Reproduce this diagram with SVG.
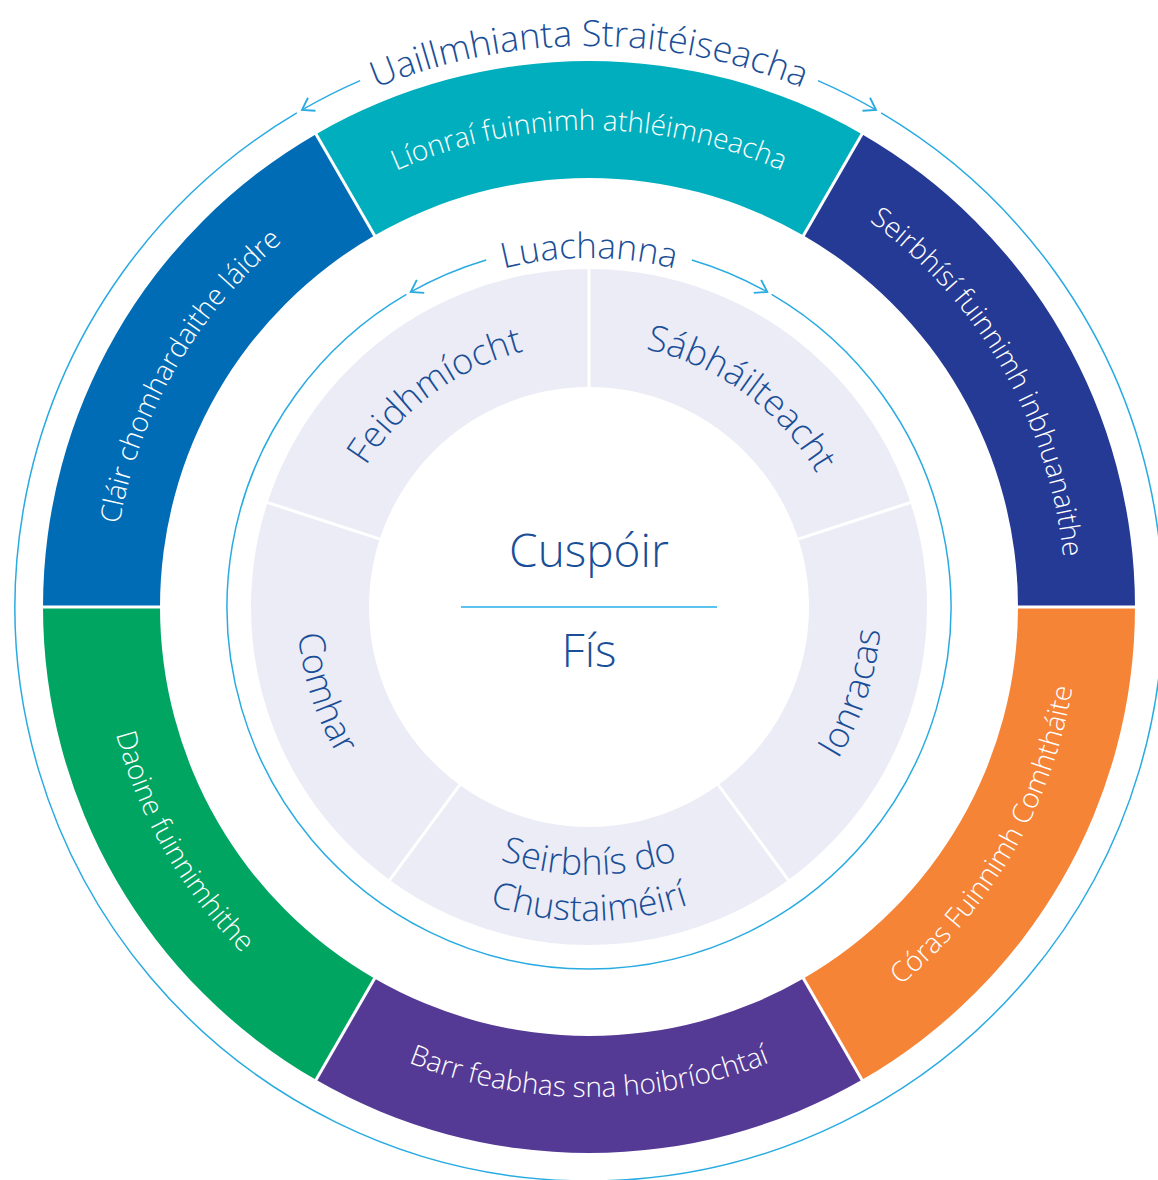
<svg xmlns="http://www.w3.org/2000/svg" width="1158" height="1180" viewBox="0 0 1158 1180">
<style>
.t { font-family: "Open Sans", "Liberation Sans", sans-serif; font-weight: 300; text-anchor: middle; }
.out { font-size: 28px; fill: #ffffff; }
.inn { font-size: 36px; fill: #1A4F98; }
.ttl { font-size: 36px; fill: #1A4F98; }
.sep { stroke: #ffffff; stroke-width: 3; }
.thin { fill: none; stroke: #29ABE2; stroke-width: 1.5; }
</style>
<defs>
<marker id="arr" markerUnits="userSpaceOnUse" markerWidth="20" markerHeight="20" viewBox="-12 -8 14 16" refX="0" refY="0" orient="auto">
<path d="M-9,-6 L0,0 L-9,6" fill="none" stroke="#29ABE2" stroke-width="1.5"/>
</marker>
<path id="pLion" d="M119.25,524.17 A477,477 0 0 1 1058.75,524.17"/>
<path id="pSeir" d="M425.86,158.77 A477,477 0 0 1 895.61,972.40"/>
<path id="pClair" d="M282.39,972.40 A477,477 0 0 1 752.14,158.77"/>
<path id="pBarr" d="M106.44,692.09 A490,490 0 0 0 1071.56,692.09"/>
<path id="pDaoine" d="M274.03,231.64 A490,490 0 0 0 756.59,1067.45"/>
<path id="pCoras" d="M421.41,1067.45 A490,490 0 0 0 903.97,231.64"/>
<path id="pFeid" d="M351.72,722.73 A264,264 0 0 1 772.39,417.09"/>
<path id="pSabh" d="M405.61,417.09 A264,264 0 0 1 826.28,722.73"/>
<path id="pIonr" d="M548.36,896.16 A292,292 0 0 0 726.09,349.18"/>
<path id="pComh" d="M451.91,349.18 A292,292 0 0 0 629.64,896.16"/>
<path id="pSeirb1" d="M325.07,653.54 A268,268 0 0 0 852.93,653.54"/>
<path id="pSeirb2" d="M279.77,661.53 A314,314 0 0 0 898.23,661.53"/>
<path id="pTitle" d="M36.52,509.58 A561,561 0 0 1 1141.48,509.58"/>
<path id="pLuach" d="M245.30,546.39 A349,349 0 0 1 932.70,546.39"/>
</defs>

<rect width="1158" height="1180" fill="#ffffff"/>

<g id="connectors">
<path class="thin" d="M296.81,112.93 A574,574 0 1 0 881.19,112.93"/>
<path class="thin" d="M360.12,80.61 A574,574 0 0 0 302,109.90" marker-end="url(#arr)"/>
<path class="thin" d="M817.88,80.61 A574,574 0 0 1 876,109.90" marker-end="url(#arr)"/>
<path class="thin" d="M406.36,294.45 A362,362 0 1 0 771.64,294.45"/>
<path class="thin" d="M486.18,259.91 A362,362 0 0 0 410.74,291.93" marker-end="url(#arr)"/>
<path class="thin" d="M691.82,259.91 A362,362 0 0 1 767.26,291.93" marker-end="url(#arr)"/>
</g>

<g id="title-ambitions">
<text class="t ttl"><textPath href="#pTitle" startOffset="50%">Uaillmhianta Straitéiseacha</textPath></text>
</g>

<g id="seg-lionrai">
<path d="M862,134.15 A546,546 0 0 0 316,134.15 L374.5,235.47 A429,429 0 0 1 803.5,235.47 Z" fill="#00AEBD"/>
<text class="t out"><textPath href="#pLion" startOffset="50%">Líonraí fuinnimh athléimneacha</textPath></text>
</g>
<g id="seg-seirbhisi">
<path d="M1135,607 A546,546 0 0 0 862,134.15 L803.5,235.47 A429,429 0 0 1 1018,607 Z" fill="#253A95"/>
<text class="t out"><textPath href="#pSeir" startOffset="50%">Seirbhísí fuinnimh inbhuanaithe</textPath></text>
</g>
<g id="seg-clair">
<path d="M316,134.15 A546,546 0 0 0 43,607 L160,607 A429,429 0 0 1 374.5,235.47 Z" fill="#006CB6"/>
<text class="t out"><textPath href="#pClair" startOffset="50%">Cláir chomhardaithe láidre</textPath></text>
</g>
<g id="seg-daoine">
<path d="M43,607 A546,546 0 0 0 316,1079.85 L374.5,978.53 A429,429 0 0 1 160,607 Z" fill="#00A562"/>
<text class="t out"><textPath href="#pDaoine" startOffset="50%">Daoine fuinnimhithe</textPath></text>
</g>
<g id="seg-barr">
<path d="M316,1079.85 A546,546 0 0 0 862,1079.85 L803.5,978.53 A429,429 0 0 1 374.5,978.53 Z" fill="#553A95"/>
<text class="t out"><textPath href="#pBarr" startOffset="50%">Barr feabhas sna hoibríochtaí</textPath></text>
</g>
<g id="seg-coras">
<path d="M862,1079.85 A546,546 0 0 0 1135,607 L1018,607 A429,429 0 0 1 803.5,978.53 Z" fill="#F58437"/>
<text class="t out"><textPath href="#pCoras" startOffset="50%">Córas Fuinnimh Comhtháite</textPath></text>
</g>
<g id="outer-separators">
<line class="sep" x1="1013" y1="607" x2="1140" y2="607"/>
<line class="sep" x1="801" y1="239.8" x2="864.5" y2="129.8"/>
<line class="sep" x1="377" y1="239.8" x2="313.5" y2="129.8"/>
<line class="sep" x1="165" y1="607" x2="38" y2="607"/>
<line class="sep" x1="377" y1="974.2" x2="313.5" y2="1084.2"/>
<line class="sep" x1="801" y1="974.2" x2="864.5" y2="1084.2"/>
</g>

<g id="title-values">
<text class="t inn" style="font-size:35px"><textPath href="#pLuach" startOffset="50%">Luachanna</textPath></text>
</g>

<g id="values-ring">
<circle cx="589" cy="607" r="279" fill="none" stroke="#ECECF6" stroke-width="118"/>
<line class="sep" x1="589" y1="389" x2="589" y2="267"/>
<line class="sep" x1="796.33" y1="539.63" x2="912.36" y2="501.93"/>
<line class="sep" x1="717.14" y1="783.37" x2="789.85" y2="882.07"/>
<line class="sep" x1="460.86" y1="783.37" x2="388.15" y2="882.07"/>
<line class="sep" x1="381.67" y1="539.63" x2="265.64" y2="501.93"/>
</g>
<g id="val-feidhmiocht">
<text class="t inn"><textPath href="#pFeid" startOffset="50%">Feidhmíocht</textPath></text>
</g>
<g id="val-sabhailteacht">
<text class="t inn"><textPath href="#pSabh" startOffset="50%">Sábháilteacht</textPath></text>
</g>
<g id="val-ionracas">
<text class="t inn"><textPath href="#pIonr" startOffset="50%">Ionracas</textPath></text>
</g>
<g id="val-seirbhis">
<text class="t inn"><textPath href="#pSeirb1" startOffset="50%">Seirbhís do</textPath></text>
<text class="t inn"><textPath href="#pSeirb2" startOffset="50%">Chustaiméirí</textPath></text>
</g>
<g id="val-comhar">
<text class="t inn"><textPath href="#pComh" startOffset="50%">Comhar</textPath></text>
</g>

<g id="center">
<text class="t inn" x="589" y="567" style="font-size:46px">Cuspóir</text>
<line x1="461" y1="607" x2="717" y2="607" stroke="#5BC3EE" stroke-width="2"/>
<text class="t inn" x="589" y="667" style="font-size:46px">Fís</text>
</g>
</svg>
